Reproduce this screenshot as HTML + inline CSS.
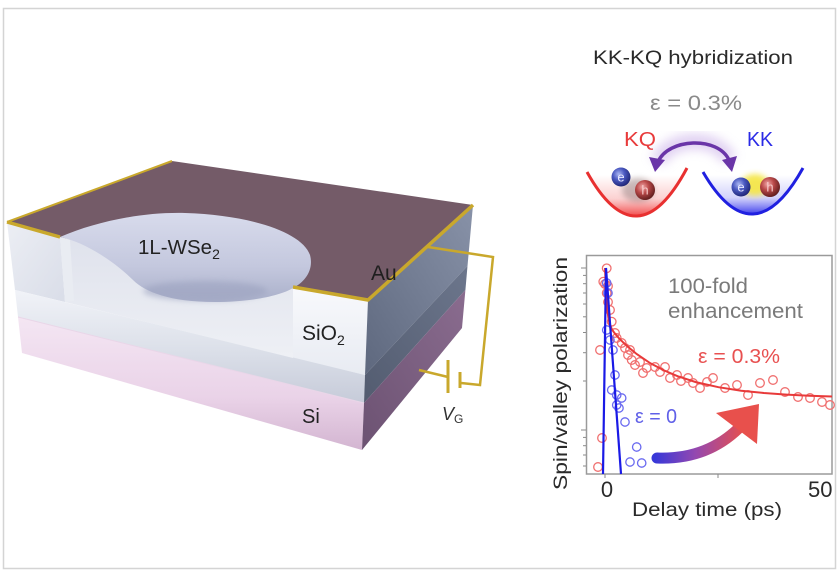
<!DOCTYPE html>
<html><head><meta charset="utf-8">
<style>
html,body{margin:0;padding:0;background:#fff;}
svg{display:block;}
text{font-family:"Liberation Sans",sans-serif;}
</style></head><body>
<svg width="840" height="578" viewBox="0 0 840 578" xmlns="http://www.w3.org/2000/svg">
<defs>
 <linearGradient id="gPadR" x1="0" y1="0" x2="0" y2="1"><stop offset="0" stop-color="#f8f9fc"/><stop offset="1" stop-color="#e8ebf2"/></linearGradient>
 <linearGradient id="gPadL" x1="0" y1="0" x2="1" y2="1"><stop offset="0" stop-color="#eceef4"/><stop offset="1" stop-color="#d9dde8"/></linearGradient>
 <linearGradient id="gLow" x1="0" y1="0" x2="0" y2="1"><stop offset="0" stop-color="#f1f3f8"/><stop offset="0.5" stop-color="#dde1ea"/><stop offset="1" stop-color="#c6cbd9"/></linearGradient>
 <linearGradient id="gSi" x1="0" y1="0" x2="0" y2="1"><stop offset="0" stop-color="#f4e6f3"/><stop offset="0.6" stop-color="#ead3e8"/><stop offset="1" stop-color="#d3b5d1"/></linearGradient>
 <linearGradient id="gRF" x1="1" y1="0" x2="0" y2="1"><stop offset="0" stop-color="#8892a8"/><stop offset="1" stop-color="#5e687e"/></linearGradient>
 <linearGradient id="gRL" x1="1" y1="0" x2="0" y2="1"><stop offset="0" stop-color="#6c768c"/><stop offset="1" stop-color="#535c70"/></linearGradient>
 <linearGradient id="gRSi" x1="1" y1="0" x2="0" y2="1"><stop offset="0" stop-color="#8a6c8f"/><stop offset="1" stop-color="#6c5272"/></linearGradient>
 <linearGradient id="gFlake" x1="0" y1="0" x2="0" y2="1"><stop offset="0" stop-color="#d8dbec"/><stop offset="0.6" stop-color="#c4c8de"/><stop offset="1" stop-color="#aab0ca"/></linearGradient>
 <linearGradient id="gInt" x1="0" y1="0" x2="0" y2="1"><stop offset="0" stop-color="#dfe2ec"/><stop offset="1" stop-color="#eef0f5"/></linearGradient>
 <linearGradient id="gRedFill" gradientUnits="userSpaceOnUse" x1="0" y1="175" x2="0" y2="218"><stop offset="0" stop-color="#f04040" stop-opacity="0"/><stop offset="0.55" stop-color="#f04848" stop-opacity="0.25"/><stop offset="1" stop-color="#f03030" stop-opacity="0.95"/></linearGradient>
 <linearGradient id="gBlueFill" gradientUnits="userSpaceOnUse" x1="0" y1="175" x2="0" y2="216"><stop offset="0" stop-color="#4040f0" stop-opacity="0"/><stop offset="0.55" stop-color="#5050f0" stop-opacity="0.25"/><stop offset="1" stop-color="#2020e8" stop-opacity="0.95"/></linearGradient>
 <linearGradient id="gArrow" gradientUnits="userSpaceOnUse" x1="655" y1="0" x2="745" y2="0"><stop offset="0" stop-color="#3838d8"/><stop offset="0.45" stop-color="#9448b0"/><stop offset="1" stop-color="#e84f4c"/></linearGradient>
 <radialGradient id="gE" cx="0.38" cy="0.35" r="0.7"><stop offset="0" stop-color="#aab6f2"/><stop offset="0.45" stop-color="#4a58c0"/><stop offset="1" stop-color="#1c2270"/></radialGradient>
 <radialGradient id="gH" cx="0.38" cy="0.35" r="0.7"><stop offset="0" stop-color="#f2a6a6"/><stop offset="0.45" stop-color="#b84848"/><stop offset="1" stop-color="#5a1a1a"/></radialGradient>
 <filter id="blur3" x="-50%" y="-50%" width="200%" height="200%"><feGaussianBlur stdDeviation="3"/></filter>
 <filter id="blur5" x="-50%" y="-50%" width="200%" height="200%"><feGaussianBlur stdDeviation="5"/></filter>
 <clipPath id="clipR"><rect x="0" y="0" width="834" height="578"/></clipPath>
</defs>

<!-- outer frame -->
<rect x="3.5" y="8.5" width="832" height="560" fill="#fff" stroke="#d4d4d4" stroke-width="1.5"/>

<!-- ===== 3D device ===== -->
<!-- front faces -->
<polygon points="7,222 60,237 65,302 15,290" fill="url(#gPadL)"/>
<polygon points="293,287 368,300 365,375 293,358" fill="url(#gPadR)"/>
<polygon points="15,290 365,375 364,403 18,317" fill="url(#gLow)"/>
<polygon points="18,317 364,403 362,450 22,353" fill="url(#gSi)"/>
<line x1="18" y1="317" x2="364" y2="403" stroke="#e9d6e8" stroke-width="1"/>
<!-- trench interior -->
<polygon points="60,237 293,287 293,358 65,302" fill="url(#gInt)"/>
<polygon points="60,237 70,240 74,301 65,302" fill="#e9ecf2"/>
<!-- right face -->
<polygon points="368,300 473,205 467.5,266 365,375" fill="url(#gRF)"/>
<polygon points="365,375 467.5,266 465.4,290 364,403" fill="url(#gRL)"/>
<polygon points="364,403 465.4,290 462,328 362,450" fill="url(#gRSi)"/>
<!-- top face Au -->
<polygon points="7,222 172,161 473,205 368,300 293,287 60,237" fill="#745b68"/>
<!-- flake -->
<path d="M60,237 C95,222 140,212 185,213 C250,215 302,232 310,255 C314,270 305,282 293,288 C280,296 250,302 215,302 C170,302 145,292 133,280 C115,262 85,242 60,237 Z" fill="url(#gFlake)"/>
<ellipse cx="205" cy="291" rx="62" ry="10" fill="#9aa0be" opacity="0.55" filter="url(#blur3)"/>
<!-- gold edges -->
<polyline points="7,222 172,161" fill="none" stroke="#c9a82c" stroke-width="2"/>
<polyline points="7,222 60,237" fill="none" stroke="#c9a82c" stroke-width="3.5"/>
<polyline points="293,287 368,300 473,205" fill="none" stroke="#c9a82c" stroke-width="3.5" stroke-linejoin="round"/>
<!-- wire & battery -->
<polyline points="428,247 493,257 480,385 461,383" fill="none" stroke="#c9a82c" stroke-width="2.5"/>
<line x1="460" y1="372" x2="460" y2="388" stroke="#c9a82c" stroke-width="3"/>
<line x1="448" y1="360" x2="448" y2="393" stroke="#c9a82c" stroke-width="3"/>
<line x1="448" y1="377" x2="419" y2="370" stroke="#c9a82c" stroke-width="2.5"/>

<!-- device labels -->
<text x="138" y="254" font-size="20.5" fill="#222">1L-WSe<tspan font-size="14" dy="5">2</tspan></text>
<text x="371" y="280" font-size="21" fill="#1e1e1e">Au</text>
<text x="302" y="340" font-size="21" fill="#222">SiO<tspan font-size="14" dy="5">2</tspan></text>
<text x="302" y="423" font-size="20" fill="#222">Si</text>
<text x="442" y="420" font-size="18" fill="#333" font-style="italic">V<tspan font-size="12" dy="3" font-style="normal">G</tspan></text>

<!-- ===== schematic ===== -->
<text x="593" y="64" font-size="19" fill="#2a2a2a" textLength="200" lengthAdjust="spacingAndGlyphs">KK-KQ hybridization</text>
<text x="650" y="110" font-size="21" fill="#8a8a8a" textLength="92" lengthAdjust="spacingAndGlyphs">ε = 0.3%</text>
<text x="624" y="146" font-size="20" fill="#e83a3a" textLength="32" lengthAdjust="spacingAndGlyphs">KQ</text>
<text x="747" y="146" font-size="20" fill="#2a2ae6" textLength="26" lengthAdjust="spacingAndGlyphs">KK</text>

<!-- purple arc -->
<path d="M658,162 C668,136 718,134 729,160" fill="none" stroke="#c9aee8" stroke-width="16" opacity="0.55" filter="url(#blur5)"/>
<path d="M658,162 C668,138 718,136 729,160" fill="none" stroke="#6a35a8" stroke-width="3.5"/>
<polygon points="655,172 649,157 665,160" fill="#6a35a8"/>
<polygon points="732,172 722,160 737,156" fill="#6a35a8"/>

<!-- parabolas -->
<path d="M587,172 Q637,262 687,168 Z" fill="url(#gRedFill)"/>
<path d="M587,172 Q637,262 687,168" fill="none" stroke="#e83030" stroke-width="3"/>
<path d="M703,172 Q753,258 803,168 Z" fill="url(#gBlueFill)"/>
<path d="M703,172 Q753,258 803,168" fill="none" stroke="#2020e0" stroke-width="3"/>
<!-- KQ haze -->
<ellipse cx="638" cy="190" rx="16" ry="12" fill="#6a5a5a" opacity="0.35" filter="url(#blur3)"/>
<!-- KK yellow glow -->
<ellipse cx="755" cy="185" rx="14" ry="11" fill="#f5e640" opacity="0.9" filter="url(#blur3)"/>
<!-- balls -->
<circle cx="621" cy="177" r="9.5" fill="url(#gE)"/>
<text x="621" y="181.5" font-size="13" fill="#e6e8ff" text-anchor="middle">e</text>
<circle cx="645" cy="190" r="10" fill="url(#gH)"/>
<text x="645" y="194.5" font-size="13" fill="#f6caca" text-anchor="middle">h</text>
<circle cx="741" cy="187" r="9.5" fill="url(#gE)"/>
<text x="741" y="191.5" font-size="13" fill="#e6e8ff" text-anchor="middle">e</text>
<circle cx="770" cy="187" r="10" fill="url(#gH)"/>
<text x="770" y="191.5" font-size="13" fill="#f6caca" text-anchor="middle">h</text>

<!-- ===== plot ===== -->
<rect x="586.5" y="255.5" width="245.5" height="218.5" fill="none" stroke="#9a9a9a" stroke-width="1.5"/>
<g stroke="#8a8a8a" stroke-width="1">
 <line x1="581" y1="268" x2="586" y2="268"/>
 <line x1="581" y1="430" x2="586" y2="430"/>
 <line x1="583" y1="275.4" x2="586" y2="275.4"/>
 <line x1="583" y1="283.7" x2="586" y2="283.7"/>
 <line x1="583" y1="293" x2="586" y2="293"/>
 <line x1="583" y1="304" x2="586" y2="304"/>
 <line x1="583" y1="316.8" x2="586" y2="316.8"/>
 <line x1="583" y1="332.5" x2="586" y2="332.5"/>
 <line x1="583" y1="352.7" x2="586" y2="352.7"/>
 <line x1="583" y1="381" x2="586" y2="381"/>
 <line x1="583" y1="437.4" x2="586" y2="437.4"/>
 <line x1="583" y1="445.7" x2="586" y2="445.7"/>
 <line x1="583" y1="455" x2="586" y2="455"/>
 <line x1="583" y1="466" x2="586" y2="466"/>
 <line x1="605" y1="474" x2="605" y2="478"/>
 <line x1="718" y1="474" x2="718" y2="478"/>
</g>

<!-- red circles -->
<g fill="none" stroke="#f07070" stroke-width="1.3">
 <circle cx="598" cy="467" r="4.3"/><circle cx="602" cy="438" r="4.3"/><circle cx="600" cy="350" r="4.3"/>
 <circle cx="606.7" cy="268.3" r="4.3"/><circle cx="603.3" cy="281.7" r="4.3"/><circle cx="605" cy="284" r="4.3"/>
 <circle cx="608" cy="286" r="4.3"/><circle cx="606.7" cy="293" r="4.3"/><circle cx="608" cy="302" r="4.3"/>
 <circle cx="610" cy="310" r="4.3"/><circle cx="611.7" cy="321.7" r="4.3"/><circle cx="615" cy="333" r="4.3"/>
 <circle cx="616.7" cy="338" r="4.3"/><circle cx="621.7" cy="343" r="4.3"/><circle cx="625" cy="348" r="4.3"/>
 <circle cx="630" cy="350" r="4.3"/><circle cx="628" cy="355" r="4.3"/><circle cx="631.7" cy="360" r="4.3"/>
 <circle cx="635" cy="365" r="4.3"/><circle cx="640" cy="362" r="4.3"/><circle cx="643" cy="373" r="4.3"/>
 <circle cx="646.7" cy="368" r="4.3"/><circle cx="655" cy="367" r="4.3"/><circle cx="660" cy="372" r="4.3"/>
 <circle cx="665" cy="367" r="4.3"/><circle cx="670" cy="378" r="4.3"/><circle cx="677" cy="375" r="4.3"/>
 <circle cx="681" cy="381" r="4.3"/><circle cx="688" cy="378" r="4.3"/><circle cx="693" cy="383" r="4.3"/>
 <circle cx="700" cy="388" r="4.3"/><circle cx="707" cy="382" r="4.3"/><circle cx="713" cy="378" r="4.3"/>
 <circle cx="725" cy="388" r="4.3"/><circle cx="737" cy="385" r="4.3"/><circle cx="748" cy="395" r="4.3"/>
 <circle cx="760" cy="383" r="4.3"/><circle cx="773" cy="380" r="4.3"/><circle cx="785" cy="392" r="4.3"/>
 <circle cx="798" cy="397" r="4.3"/><circle cx="810" cy="398" r="4.3"/><circle cx="822" cy="402" r="4.3"/>
 <circle cx="830" cy="405" r="4.3"/>
</g>
<!-- blue circles -->
<g fill="none" stroke="#6a6af0" stroke-width="1.3">
 <circle cx="606.7" cy="283" r="4.2"/><circle cx="608" cy="293" r="4.2"/><circle cx="606.7" cy="330" r="4.2"/>
 <circle cx="610" cy="340" r="4.2"/><circle cx="613" cy="350" r="4.2"/><circle cx="615" cy="375" r="4.2"/>
 <circle cx="611.7" cy="390" r="4.2"/><circle cx="616.7" cy="395" r="4.2"/><circle cx="621.7" cy="398" r="4.2"/>
 <circle cx="616.7" cy="405" r="4.2"/><circle cx="619" cy="408" r="4.2"/><circle cx="625" cy="422" r="4.2"/>
 <circle cx="636.7" cy="447" r="4.2"/><circle cx="630" cy="462" r="4.2"/><circle cx="641.7" cy="463" r="4.2"/>
</g>
<!-- red fit -->
<polyline fill="none" stroke="#e83a3a" stroke-width="2"
 points="605,268 606.1,294.6 607.3,309.4 608.4,318 609.5,323.3 611.8,329.1 614.1,332.5 618.6,337.8 623.2,342.4 627.7,346.6 636.8,354.1 650.4,363.3 664,370.4 677.6,376.2 695.8,382.1 718.5,387.2 741.2,390.7 763.9,393 786.6,394.6 809.3,395.7 832,396.5"/>
<!-- blue fit -->
<polyline fill="none" stroke="#1a1ae6" stroke-width="2.2" stroke-linejoin="miter" points="603,474 606,268 621,474"/>

<!-- gradient arrow -->
<path d="M657,458 Q706,460 739,428" fill="none" stroke="url(#gArrow)" stroke-width="11" stroke-linecap="round"/>
<polygon points="716,413 759,404 757,444" fill="#e8504c"/>

<!-- plot texts -->
<text x="668" y="293" font-size="21" fill="#7a7a7a" textLength="80" lengthAdjust="spacingAndGlyphs">100-fold</text>
<text x="668" y="318" font-size="21" fill="#7a7a7a" textLength="135" lengthAdjust="spacingAndGlyphs">enhancement</text>
<text x="698" y="363" font-size="20" fill="#e85050" textLength="82" lengthAdjust="spacingAndGlyphs">ε = 0.3%</text>
<text x="635" y="423" font-size="20" fill="#6060e8" textLength="42" lengthAdjust="spacingAndGlyphs">ε = 0</text>
<text transform="translate(567,373.5) rotate(-90)" x="0" y="0" font-size="19" fill="#2a2a2a" text-anchor="middle" textLength="233" lengthAdjust="spacingAndGlyphs">Spin/valley polarization</text>
<text x="607" y="497" font-size="22" fill="#2a2a2a" text-anchor="middle">0</text>
<g clip-path="url(#clipR)"><text x="808" y="497" font-size="22" fill="#2a2a2a">50</text></g>
<text x="632" y="516" font-size="19" fill="#2a2a2a" textLength="150" lengthAdjust="spacingAndGlyphs">Delay time (ps)</text>
</svg>
</body></html>
